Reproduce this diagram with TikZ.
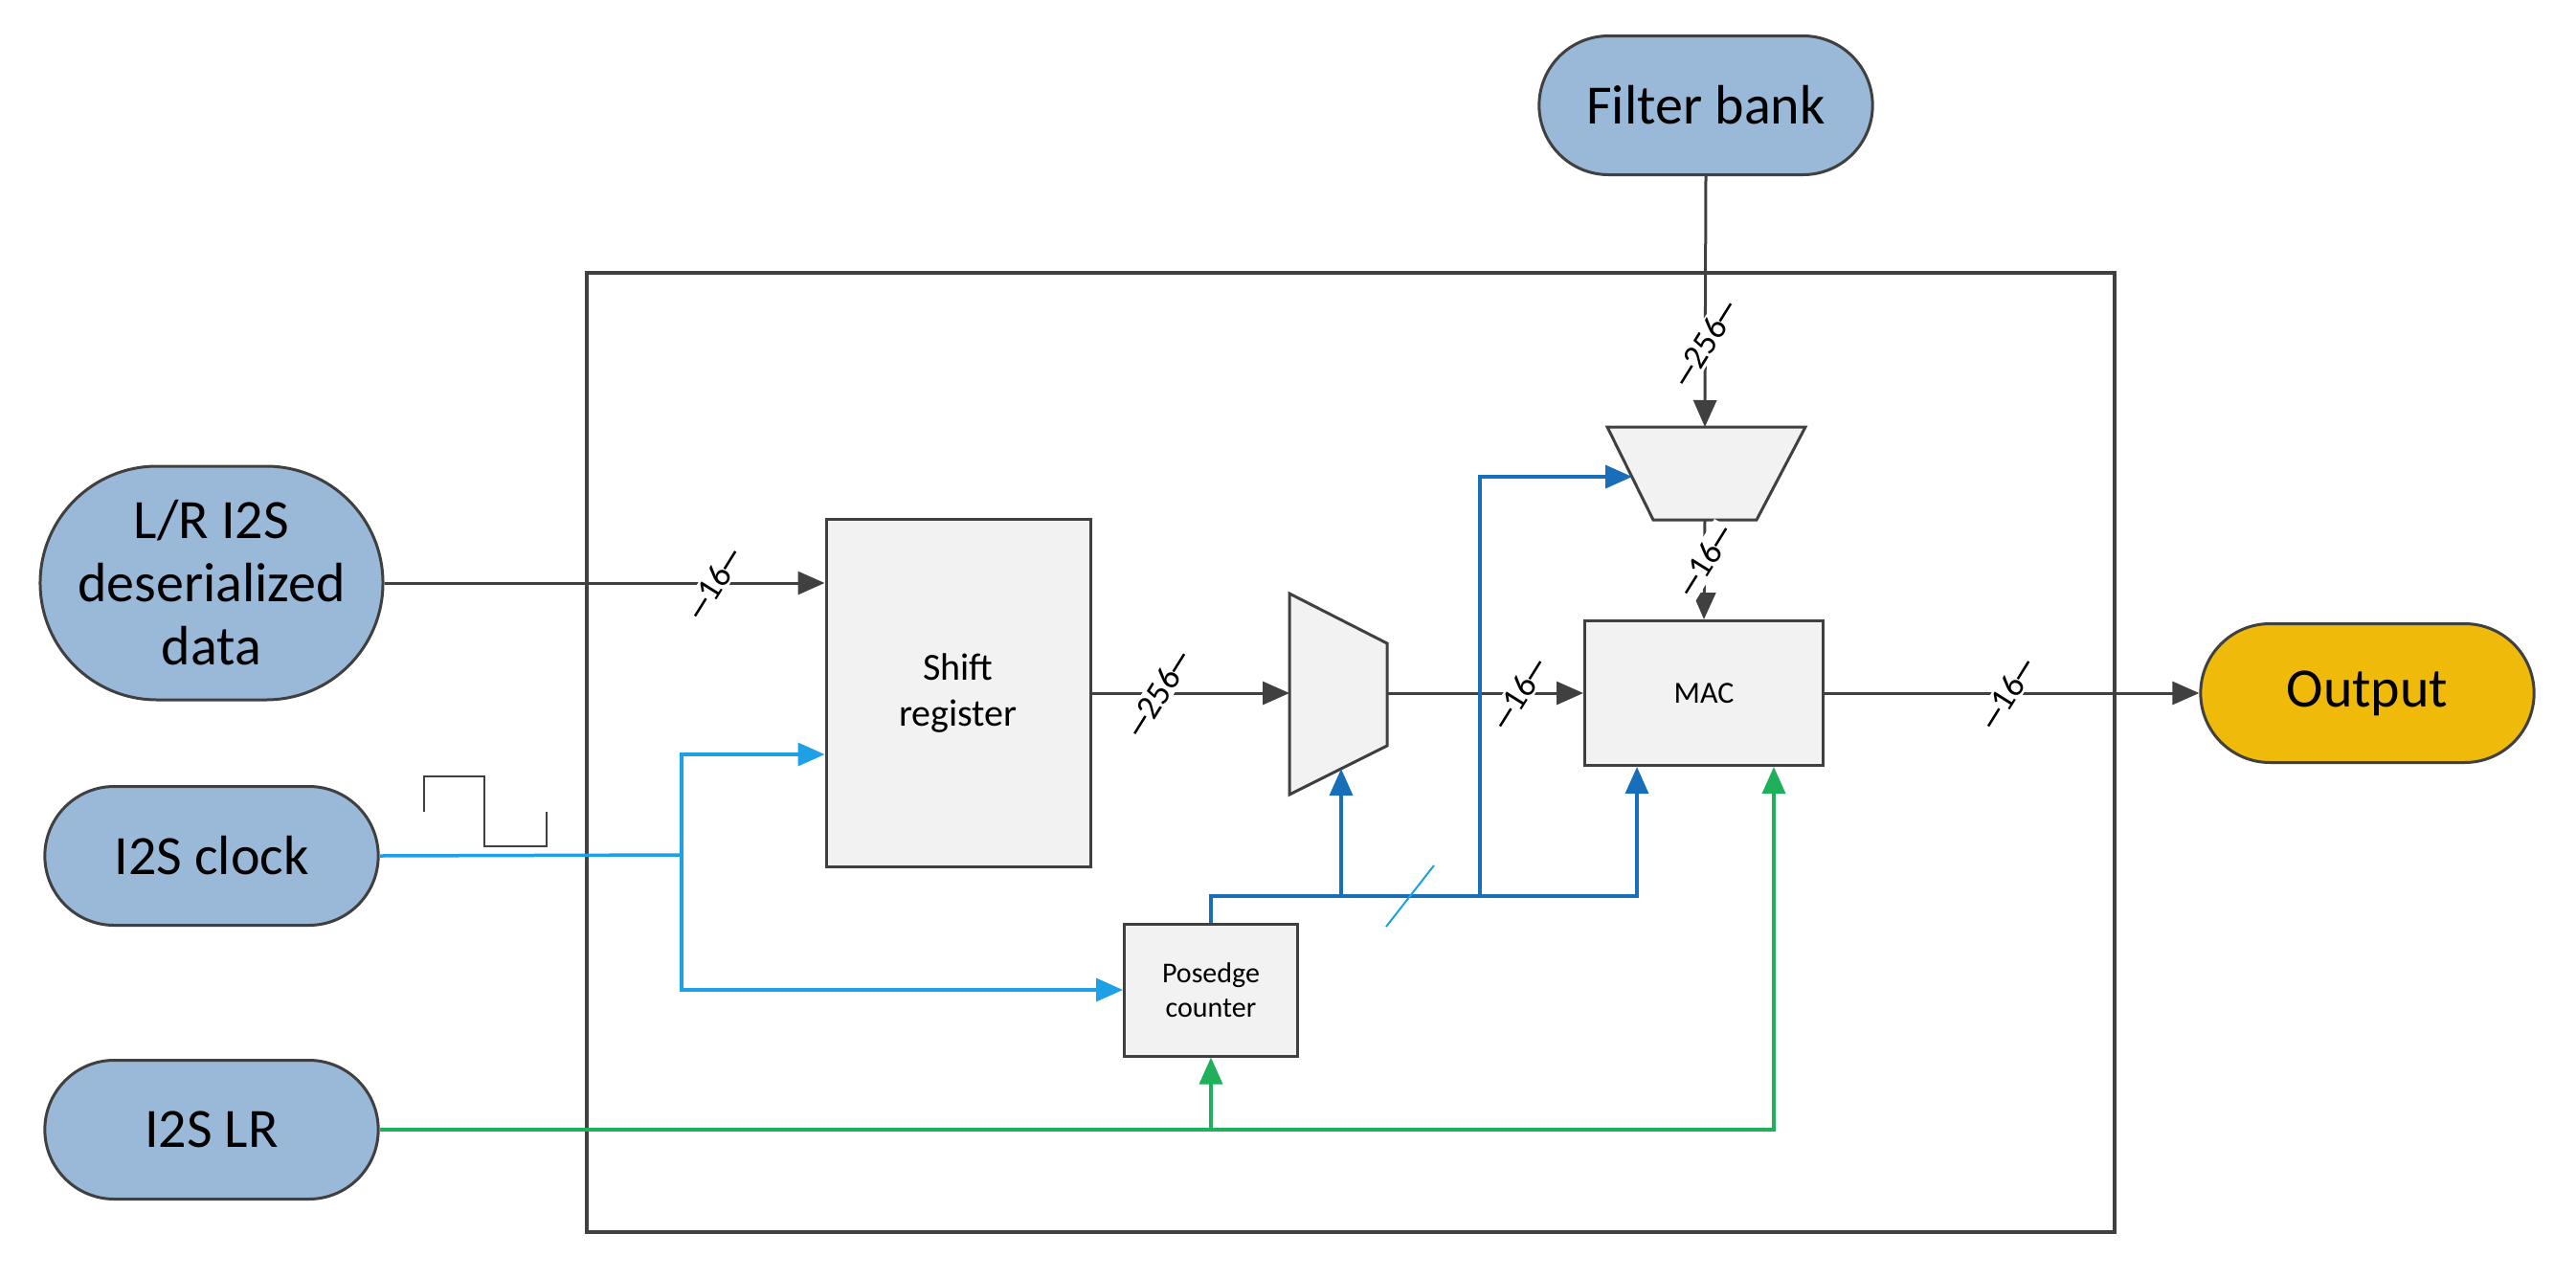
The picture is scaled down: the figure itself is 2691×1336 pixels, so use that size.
\documentclass[tikz,border=0pt]{standalone}
\usepackage{fontspec}
\setmainfont{Carlito}
\usetikzlibrary{arrows.meta,shapes.misc,calc}
\definecolor{pillblue}{RGB}{154,185,216}
\definecolor{pillgold}{RGB}{240,186,10}
\definecolor{wire}{RGB}{64,64,64}
\definecolor{clkblue}{RGB}{30,160,230}
\definecolor{cntblue}{RGB}{25,110,185}
\definecolor{lrgreen}{RGB}{30,176,90}
\tikzset{
  pill/.style={rounded rectangle, draw=black!75, line width=3pt, fill=pillblue,
    minimum width=355pt, minimum height=145pt, font=\fontsize{58}{66}\selectfont, align=center},
  block/.style={rectangle, draw=wire, line width=3pt, fill=black!5, align=center},
  tip/.style={-{Triangle[length=28pt,width=24pt]}},
  bus/.style={fill=white, inner sep=2pt, rotate=58, font=\fontsize{36}{36}\selectfont},
}
\newcommand{\busw}[2]{\node[bus] at #1 {\rule[0.55ex]{0.6em}{2.5pt}#2\rule[0.55ex]{0.6em}{2.5pt}};}
\begin{document}
\begin{tikzpicture}[x=1pt,y=-1pt]
\useasboundingbox (0,0) rectangle (2691,1336);
% inputs and output
\node[pill] (filter) at (1782,110) {Filter bank};
\node[pill, minimum height=244pt] (data) at (221,609) {L/R I2S\\deserialized\\data};
\node[pill] (clk) at (221,894) {I2S clock};
\node[pill] (lrs) at (221,1180) {I2S LR};
\node[pill, fill=pillgold] (out) at (2473,724) {Output};
% frame
\draw[wire, line width=4pt] (613,285) rectangle (2209,1287);
% blocks
\node[block, minimum width=276pt, minimum height=363pt, font=\fontsize{40}{48}\selectfont] (shift) at (1001,724) {Shift\\register};
\node[block, minimum width=249pt, minimum height=151pt, font=\fontsize{32}{38}\selectfont] (mac) at (1780,724) {MAC};
\node[block, minimum width=181pt, minimum height=138pt, font=\fontsize{30}{36}\selectfont] (cnt) at (1265,1034) {Posedge\\counter};
\draw[wire, line width=3pt, fill=black!5] (1347,620) -- (1449,672) -- (1449,779) -- (1347,830) -- cycle;
\draw[wire, line width=3pt, fill=black!5] (1679,446) -- (1886,446) -- (1835,543) -- (1727,543) -- cycle;
\coordinate (muxin) at (1347,724);
\coordinate (muxout) at (1449,724);
\coordinate (muxsel) at (1401,803);
\coordinate (trapin) at (1781,446);
\coordinate (trapout) at (1781,543);
\coordinate (trapsel) at (1705,498);
% clock symbol
\draw[wire, line width=2.5pt] (443,848) -- (443,811) -- (506,811) -- (506,884) -- (571,884) -- (571,848);
% data path
\draw[wire, line width=3pt, tip] (data.east) -- (data.east -| shift.west);
\draw[wire, line width=3pt, tip] (shift.east) -- (muxin);
\draw[wire, line width=3pt, tip] (muxout) -- (mac.west);
\draw[wire, line width=3pt, tip] (mac.east) -- (out.west);
\draw[wire, line width=3pt, tip] (filter.south) -- (trapin);
\draw[wire, line width=3pt, tip] (trapout) -- (mac.north);
\busw{(746,609)}{16}
\busw{(1210,724)}{256}
\busw{(1587,724)}{16}
\busw{(2097,724)}{16}
\busw{(1781,358)}{256}
\busw{(1781,585)}{16}
% clock
\draw[clkblue, line width=3.5pt] (clk.east) -- (712,893);
\draw[clkblue, line width=3.5pt, tip] (712,893) |- (shift.west |- 0,788);
\draw[clkblue, line width=3.5pt, tip] (712,893) |- (cnt.west);
% counter bus
\draw[cntblue, line width=3.5pt, tip] (cnt.north) |- (1710,936) -- (mac.south -| 1710,0);
\draw[cntblue, line width=3.5pt, tip] (1401,936) -- (muxsel);
\draw[cntblue, line width=3.5pt, tip] (1546,936) |- (trapsel);
\draw[clkblue, line width=2pt] (1448,968) -- (1498,904);
% LR
\draw[lrgreen, line width=3.5pt, tip] (lrs.east) -| (mac.south -| 1853,0);
\draw[lrgreen, line width=3.5pt, tip] (1265,1180) -- (cnt.south);
\end{tikzpicture}
\end{document}
